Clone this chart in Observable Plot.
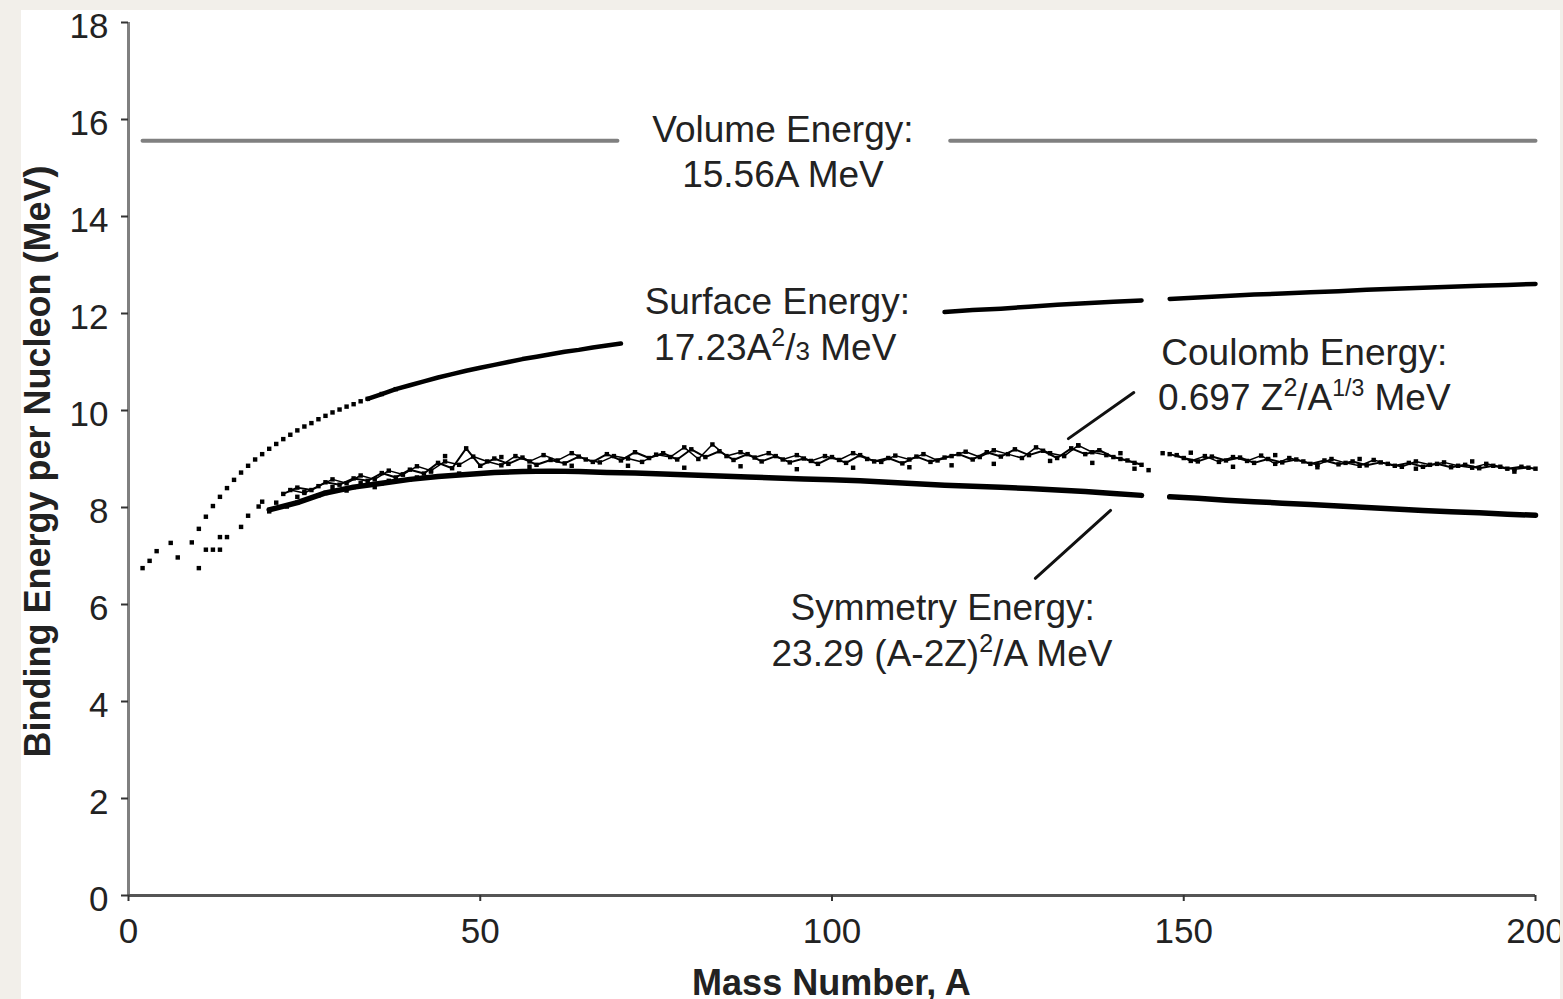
<!DOCTYPE html>
<html><head><meta charset="utf-8">
<script src="https://cdn.jsdelivr.net/npm/d3@7"></script>
<script src="https://cdn.jsdelivr.net/npm/@observablehq/plot@0.6"></script>
<style>
html,body{margin:0;padding:0;background:#f2efea;width:1563px;height:999px;overflow:hidden;}
#card{position:absolute;left:21px;top:10px;width:1539px;height:989px;background:#fff;overflow:hidden;}
</style></head><body><div id="card"></div>
<script>
// ---- tick labels ----
const xTicks = [0, 50, 100, 150, 200];
const yTicks = [0, 2, 4, 6, 8, 10, 12, 14, 16, 18];
const xTitle = "Mass Number, A";
const yTitle = "Binding Energy per Nucleon (MeV)";

// ---- volume energy (gap where the label sits) ----
const volumeA   = [2, 69.5, 116.8, 200];
const volumeBE  = [15.56, 15.56, 15.56, 15.56];
const volumeSeg = [1, 1, 2, 2];

// ---- surface energy curve (null = gap) ----
const surfaceA  = [9,10,11,12,13,14,15,16,17,18,19,20,21,22,23,24,25,26,27,28,29,30,31,32,33,34,
  36,38,40,42,44,46,48,50,52,54,56,58,60,62,64,66,68,70,93,
  116,120,124,128,132,136,140,144,146,148,152,156,160,164,168,172,176,180,184,188,192,196,200];
const surfaceBE = [7.28,7.56,7.81,8.03,8.22,8.40,8.57,8.72,8.86,8.99,9.10,9.21,9.31,9.41,9.50,9.59,9.67,9.74,9.82,9.89,9.96,10.02,10.08,10.13,10.19,10.24,
  10.34,10.44,10.52,10.60,10.68,10.75,10.82,10.88,10.94,11.00,11.06,11.11,11.16,11.21,11.25,11.30,11.34,11.38,null,
  12.03,12.07,12.10,12.14,12.18,12.21,12.24,12.27,null,12.30,12.33,12.36,12.39,12.41,12.44,12.46,12.49,12.51,12.53,12.55,12.57,12.59,12.61];

// ---- after Coulomb term (noisy upper band), even A ----
const coulombA  = [22,24,26,28,30,32,34,36,38,40,42,44,46,48,50,52,54,56,58,60,62,64,66,68,70,72,74,76,78,80,
  82,84,86,88,90,92,94,96,98,100,102,104,106,108,110,112,114,116,118,120,122,124,126,128,130,132,134,136,138,140,
  142,144,146,148,150,152,154,156,158,160,162,164,166,168,170,172,174,176,178,180,182,184,186,188,190,192,194,196,198,200];
const coulombBE = [8.28,8.41,8.36,8.52,8.47,8.60,8.55,8.71,8.62,8.78,8.70,8.92,8.81,9.22,8.86,9.01,8.90,9.03,8.88,8.98,
  8.91,9.05,8.94,9.10,8.97,9.14,9.02,9.12,8.99,9.20,9.04,9.16,8.98,9.10,8.95,9.06,8.93,9.01,8.90,9.04,
  8.92,9.08,8.95,9.02,8.91,9.05,8.94,9.03,9.10,8.99,9.14,9.05,9.20,9.08,9.17,9.02,9.22,9.10,9.18,9.04,
  8.97,8.88,null,9.10,9.02,8.95,9.05,8.97,9.03,8.92,9.00,8.93,8.99,8.90,8.97,8.89,8.95,8.87,8.93,8.86,
  8.92,8.84,8.90,8.83,8.88,8.81,8.86,8.80,8.84,8.80];

// ---- after Coulomb term, odd A (null = gap) ----
const coulombOddA  = [23,25,27,29,31,33,35,37,39,41,43,45,47,49,51,53,55,57,59,61,63,65,67,69,71,73,75,77,79,81,
  83,85,87,89,91,93,95,97,99,101,103,105,107,109,111,113,115,117,119,121,123,125,127,129,131,133,135,137,139,141,
  143,145,149,151,153,155,157,159,161,163,165,167,169,171,173,175,177,179,181,183,185,187,189,191,193,195,197,199];
const coulombOddBE = [8.36,8.30,8.44,8.58,8.50,8.66,8.58,8.76,8.68,8.85,8.76,8.95,8.88,9.05,8.95,8.87,9.06,8.95,9.08,8.97,
  9.12,8.99,8.93,9.06,9.01,8.94,9.09,9.04,9.24,9.00,9.30,9.06,9.14,9.03,9.12,8.99,9.08,8.96,9.06,8.98,
  9.12,9.00,8.94,9.07,8.99,9.10,8.97,9.06,9.15,9.04,9.18,9.10,9.02,9.24,9.12,9.06,9.28,9.14,9.08,9.00,
  8.92,null,9.08,8.96,9.06,8.94,9.04,8.96,9.07,8.90,9.02,8.95,8.88,9.00,8.92,8.86,8.98,8.90,8.84,8.95,8.88,
  8.93,8.86,8.82,8.90,8.84,8.79,8.82];

// ---- after symmetry term (total binding energy, lower band) ----
const symmetryA  = [20,24,28,32,36,40,44,48,52,56,60,64,68,72,76,80,84,88,92,96,100,104,108,112,116,120,124,128,132,136,140,144,146,
  148,152,156,160,164,168,172,176,180,184,188,192,196,200];
const symmetryBE = [7.95,8.10,8.30,8.42,8.50,8.58,8.64,8.68,8.72,8.74,8.75,8.74,8.72,8.71,8.69,8.67,8.65,8.63,8.61,8.59,8.57,8.55,8.52,8.49,8.46,8.44,8.42,8.39,8.36,8.33,8.29,8.25,null,
  8.22,8.19,8.15,8.12,8.09,8.06,8.03,8.00,7.97,7.94,7.91,7.89,7.86,7.84];

// ---- scattered individual nuclides ----
const scatterA  = [2,3,4,6,7,10,11,12,13,13,14,16,17,18.5,19,20,21,22.5,24,25,27,29,31,33,35,37,39,41,43,45,47,53,57,63,71,79,87,95,103,111,117,123,131,135,137,141,143,145,147,151,157,163,169,175,183,191,197];
const scatterBE = [6.75,6.90,7.10,7.27,6.97,6.75,7.13,7.13,7.13,7.39,7.39,7.60,7.83,8.02,8.12,7.92,8.10,8.02,8.22,8.32,8.25,8.42,8.35,8.50,8.42,8.55,8.68,8.62,8.74,9.06,8.70,9.04,8.84,8.86,8.86,8.82,8.85,8.79,8.82,8.83,8.87,8.90,8.96,9.28,8.92,9.12,8.80,8.77,9.12,9.13,8.84,9.08,8.83,9.00,8.80,8.95,8.74];

// ---- annotation leaders ----
const leaderA   = [142.9, 133.6, 139.6, 128.9];
const leaderBE  = [10.37, 9.42, 7.94, 6.54];
const leaderSeg = ["c", "c", "s", "s"];

// ---- annotation texts ----
const labelA  = [93.1, 93.1, 92.3, 92.0, 167.2, 167.2, 115.8, 115.7];
const labelBE = [15.53, 14.60, 11.98, 11.03, 10.93, 10.00, 5.67, 4.72];
const labelParts = [
  [["Volume Energy:", "n"]],
  [["15.56A MeV", "n"]],
  [["Surface Energy:", "n"]],
  [["17.23A", "n"], ["2", "sup"], ["/", "n"], ["3", "small"], [" MeV", "n"]],
  [["Coulomb Energy:", "n"]],
  [["0.697 Z", "n"], ["2", "sup"], ["/A", "n"], ["1/3", "sup"], [" MeV", "n"]],
  [["Symmetry Energy:", "n"]],
  [["23.29 (A-2Z)", "n"], ["2", "sup"], ["/A MeV", "n"]]
];

const volume     = volumeA.map((a, i) => ({A: a, BE: volumeBE[i], seg: volumeSeg[i]}));
const surface    = surfaceA.map((a, i) => ({A: a, BE: surfaceBE[i]}));
const coulomb    = coulombA.map((a, i) => ({A: a, BE: coulombBE[i]}));
const coulombOdd = coulombOddA.map((a, i) => ({A: a, BE: coulombOddBE[i]}));
const symmetry   = symmetryA.map((a, i) => ({A: a, BE: symmetryBE[i]}));
const scatter    = scatterA.map((a, i) => ({A: a, BE: scatterBE[i]}));
const leaders    = leaderA.map((a, i) => ({A: a, BE: leaderBE[i], seg: leaderSeg[i]}));

const dotOpts = {x: "A", y: "BE", symbol: "square", r: 2.5, fill: "#000", stroke: "none"};

const plot = Plot.plot({
  width: 1539, height: 989,
  marginLeft: 107, marginRight: 25, marginTop: 12, marginBottom: 104,
  style: {fontFamily: "'Liberation Sans', Arial, sans-serif", fontSize: "35px", color: "#222", background: "transparent"},
  x: {domain: [0, 200]},
  y: {domain: [0, 18]},
  marks: [
    Plot.ruleX([0], {stroke: "#808080", strokeWidth: 3}),
    Plot.ruleY([0], {stroke: "#555", strokeWidth: 3}),
    // y tick marks
    Plot.axisY({ticks: yTicks, tickSize: 7, stroke: "#333", strokeWidth: 2, label: null, tickFormat: () => ""}),
    // y tick labels (slightly below tick centre, as in the reference)
    Plot.axisY({ticks: yTicks, tickSize: 0, tickPadding: 20, label: null, fontSize: 35, dy: 4}),
    Plot.axisX({ticks: xTicks, tickSize: 6, tickPadding: 17, stroke: "#333", strokeWidth: 2, label: null, fontSize: 35}),
    Plot.line(volume, {x: "A", y: "BE", z: "seg", stroke: "#808080", strokeWidth: 4}),
    Plot.line(surface, {x: "A", y: "BE", filter: d => d.A >= 34, stroke: "#000", strokeWidth: 4.5}),
    Plot.dot(surface.filter(d => d.BE != null && d.A < 40), dotOpts),
    Plot.line(symmetry, {x: "A", y: "BE", stroke: "#000", strokeWidth: 5.5}),
    Plot.dot(symmetry.filter(d => d.BE != null && d.A < 60), dotOpts),
    Plot.line(coulomb, {x: "A", y: "BE", stroke: "#000", strokeWidth: 2}),
    Plot.line(coulombOdd, {x: "A", y: "BE", stroke: "#000", strokeWidth: 1.5}),
    Plot.dot(coulomb.filter(d => d.BE != null), dotOpts),
    Plot.dot(coulombOdd.filter(d => d.BE != null), dotOpts),
    Plot.dot(scatter, dotOpts),
    Plot.line(leaders, {x: "A", y: "BE", z: "seg", stroke: "#111", strokeWidth: 3})
  ]
});

document.getElementById("card").appendChild(plot);

const sx = plot.scale("x"), sy = plot.scale("y");
const svg = d3.select(plot);
const g = svg.append("g")
  .attr("font-family", "'Liberation Sans', Arial, sans-serif")
  .attr("fill", "#222");

labelParts.forEach((parts, i) => {
  const t = g.append("text")
    .attr("x", sx.apply(labelA[i]))
    .attr("y", sy.apply(labelBE[i]))
    .attr("text-anchor", "middle")
    .attr("font-size", 37);
  let shift = 0;
  parts.forEach(([s, kind]) => {
    const ts = t.append("tspan").text(s);
    let target = 0, size = 37;
    if (kind === "sup") { target = -14; size = s.length > 1 ? 23 : 25; }
    if (kind === "small") { target = 0; size = 26; }
    ts.attr("font-size", size).attr("dy", target - shift);
    shift = target;
  });
});

// axis titles
g.append("text")
  .attr("x", (sx.apply(0) + sx.apply(200)) / 2)
  .attr("y", 985)
  .attr("text-anchor", "middle")
  .attr("font-size", 36).attr("font-weight", "bold")
  .text(xTitle);
g.append("text")
  .attr("transform", `translate(29, ${(sy.apply(0) + sy.apply(18)) / 2 + 3}) rotate(-90)`)
  .attr("text-anchor", "middle")
  .attr("font-size", 36).attr("font-weight", "bold")
  .text(yTitle);
</script>
</body></html>
